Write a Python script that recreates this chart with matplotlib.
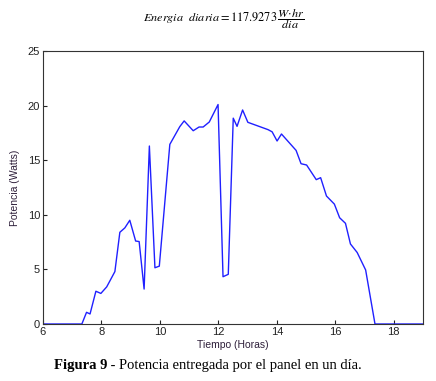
"""Potencia entregada por el panel solar durante un dia."""

import matplotlib

matplotlib.use("Agg")
import matplotlib.pyplot as plt

hours = [
    6.0, 7.33, 7.49, 7.61, 7.81, 7.98, 8.18, 8.46, 8.63, 8.80, 8.97, 9.17,
    9.29, 9.46, 9.64, 9.83, 9.98, 10.34, 10.68, 10.83, 11.14, 11.34, 11.48,
    11.69, 11.99, 12.16, 12.34, 12.51, 12.64, 12.83, 13.01, 13.34, 13.70,
    13.84, 14.01, 14.16, 14.66, 14.83, 15.02, 15.35, 15.50, 15.70, 15.97,
    16.15, 16.35, 16.52, 16.75, 17.04, 17.36, 19.0,
]
power = [
    0.0, 0.0, 1.07, 0.92, 3.0, 2.8, 3.4, 4.8, 8.4, 8.8, 9.5, 7.6,
    7.55, 3.2, 16.3, 5.15, 5.3, 16.45, 18.07, 18.6, 17.7, 18.04, 18.04,
    18.5, 20.1, 4.33, 4.55, 18.85, 18.1, 19.6, 18.47, 18.15, 17.8,
    17.6, 16.76, 17.4, 15.9, 14.68, 14.56, 13.22, 13.4, 11.72, 10.98,
    9.73, 9.22, 7.33, 6.55, 4.95, 0.0, 0.0,
]

x_ticks = [6, 8, 10, 12, 14, 16, 18]
y_ticks = [0, 5, 10, 15, 20, 25]

TEXT_COLOR = "#2e1f3a"

plt.rcParams["mathtext.fontset"] = "stix"

fig = plt.figure(figsize=(4.36, 3.81), dpi=100)
ax = fig.add_axes([0.0986, 0.1496, 0.8714, 0.7165])

ax.plot(hours, power, color="#2020ff", linewidth=1.0)

ax.set_xlim(6, 19)
ax.set_ylim(0, 25)
ax.set_xticks(x_ticks)
ax.set_yticks(y_ticks)
ax.tick_params(direction="in", length=3, width=0.8, labelsize=8,
               colors="#222222", pad=2)
for label in ax.get_xticklabels() + ax.get_yticklabels():
    label.set_fontfamily("Liberation Sans")
for spine in ax.spines.values():
    spine.set_linewidth(0.8)
    spine.set_color("#333333")

ax.set_xlabel("Tiempo (Horas)", fontsize=7.5, family="Liberation Sans",
              color=TEXT_COLOR, labelpad=2)
ax.set_ylabel("Potencia (Watts)", fontsize=7.5, family="Liberation Sans",
              color=TEXT_COLOR, labelpad=6)

fig.text(0.514, 0.950,
         r"$\mathit{Energia\ \ diaria}=117.9273\,\dfrac{\mathit{W{\cdot}hr}}{\mathit{dia}}$",
         ha="center", va="center", fontsize=8.8, color="black")

caption_bold = fig.text(0.124, 0.040, "Figura 9", ha="left", va="center",
                        fontsize=10.5, family="Liberation Serif",
                        fontweight="bold")
fig.canvas.draw()
bbox = caption_bold.get_window_extent()
x_next = bbox.x1 / fig.bbox.width
fig.text(x_next, 0.040, " - Potencia entregada por el panel en un día.",
         ha="left", va="center", fontsize=10.5, family="Liberation Serif")

fig.savefig("out.png", dpi=100)
